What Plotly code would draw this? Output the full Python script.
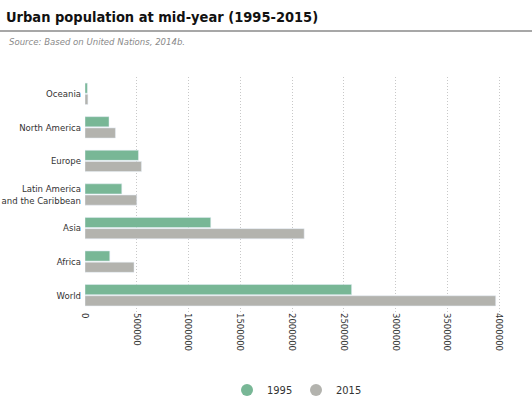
import plotly.graph_objects as go

regions = ["Oceania", "North America", "Europe", "Latin America<br>and the Caribbean",
           "Asia", "Africa", "World"]
pop_1995 = [23000, 232000, 516000, 355000, 1214000, 239000, 2574000]
pop_2015 = [28000, 294000, 545000, 500000, 2116000, 473000, 3965000]
tick_vals = [0, 500000, 1000000, 1500000, 2000000, 2500000, 3000000, 3500000, 4000000]
series_names = ["1995", "2015"]

FONT = "DejaVu Sans Condensed, Roboto, sans-serif"
GREEN = "#78b796"
GRAY = "#b3b3ae"

L, R, T, B = 85, 27, 77, 89
W, H = 532, 401
pw = W - L - R
ph = H - T - B

def px_x(px):
    return (px - L) / pw

def px_y(py):
    return (H - B - py) / ph

fig = go.Figure()
fig.add_trace(go.Bar(y=regions, x=pop_1995, name=series_names[0], orientation="h",
                     marker=dict(color=GREEN), showlegend=False))
fig.add_trace(go.Bar(y=regions, x=pop_2015, name=series_names[1], orientation="h",
                     marker=dict(color=GRAY), showlegend=False))
# legend entries with round symbols
for nm, col in zip(series_names, [GREEN, GRAY]):
    fig.add_trace(go.Scatter(x=[None], y=[None], mode="markers", name=nm,
                             marker=dict(color=col, size=11, symbol="circle"),
                             showlegend=True))

fig.update_layout(
    width=W, height=H,
    margin=dict(l=L, r=R, t=T, b=B, autoexpand=False),
    paper_bgcolor="white", plot_bgcolor="white",
    font=dict(family=FONT, size=11, color="#333333"),
    barmode="group", bargap=0.33, bargroupgap=0.1,
    title=dict(text="<b>Urban population at mid-year (1995-2015)</b>",
               x=6 / W, xanchor="left", xref="container",
               y=1 - 17 / H, yanchor="middle", yref="container",
               font=dict(family=FONT, size=14.5, color="#111111")),
    showlegend=True,
    legend=dict(orientation="h", x=px_x(227), xanchor="left",
                y=px_y(390), yanchor="middle",
                font=dict(family=FONT, size=11, color="#333333"),
                itemsizing="constant", itemwidth=30,
                entrywidth=24, entrywidthmode="pixels"),
    xaxis=dict(range=[0, 4055000], tickvals=tick_vals,
               ticktext=[str(v) for v in tick_vals], automargin=False,
               tickangle=90, showgrid=True, gridcolor="#c8c8c8",
               griddash="1px,2px", gridwidth=1, zeroline=False,
               showline=False, ticks="", tickfont=dict(size=9.5, color="#333333")),
    yaxis=dict(autorange="reversed", showgrid=False, zeroline=False,
               automargin=False, showline=False, ticks="", ticklabelstandoff=3,
               tickfont=dict(size=9.5, color="#333333")),
)

fig.add_shape(type="line", xref="paper", yref="paper",
              x0=px_x(0), x1=px_x(W), y0=px_y(31), y1=px_y(31),
              line=dict(color="#8a8a8a", width=1.5))
fig.add_annotation(text="<i>Source: Based on United Nations, 2014b.</i>",
                   xref="paper", yref="paper", x=px_x(7), y=px_y(42),
                   xanchor="left", yanchor="middle", showarrow=False,
                   font=dict(family=FONT, size=9.5, color="#8a8a8a"))

fig.write_html("out.html")
